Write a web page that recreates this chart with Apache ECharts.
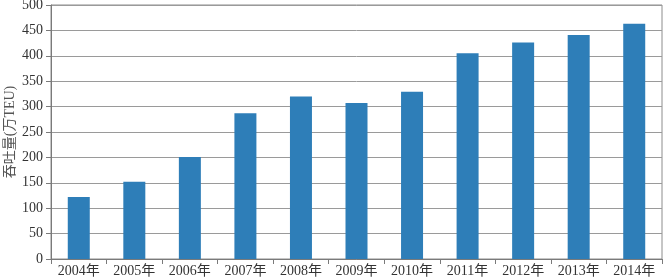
<!DOCTYPE html>
<html><head><meta charset="utf-8">
<script src="https://cdn.jsdelivr.net/npm/echarts@6/dist/echarts.min.js"></script>
<style>html,body{margin:0;padding:0;background:#fff;}#c{width:663px;height:280px;}</style>
</head><body><div id="c"></div>
<script>
const categories = ['2004年','2005年','2006年','2007年','2008年','2009年','2010年','2011年','2012年','2013年','2014年'];
const throughput = [122, 152, 201, 287, 320, 307, 329, 405, 426, 441, 463];
const yTicks = {min: 0, max: 500, interval: 50};
const yName = '吞吐量(万TEU)';

const chart = echarts.init(document.getElementById('c'), null, {renderer: 'canvas'});
const font = '"Liberation Serif", "Noto Sans CJK SC", serif';
chart.setOption({
  animation: false,
  backgroundColor: '#fff',
  grid: {left: 51, right: 1, top: 5, bottom: 21, containLabel: false, outerBoundsMode: 'none', show: true, borderColor: '#8c8c8c', borderWidth: 1},
  xAxis: {
    type: 'category', data: categories,
    axisLine: {lineStyle: {color: '#7a7a7a', width: 1}},
    axisTick: {show: true, length: 5, lineStyle: {color: '#7a7a7a'}},
    axisLabel: {color: '#333', fontFamily: font, fontSize: 14, margin: 5},
    splitLine: {show: false}
  },
  yAxis: {
    type: 'value', min: yTicks.min, max: yTicks.max, interval: yTicks.interval,
    name: yName, nameLocation: 'middle', nameGap: 34, nameRotate: 90, nameMoveOverlap: false,
    nameTextStyle: {color: '#555', fontFamily: font, fontSize: 14},
    axisLine: {show: true, lineStyle: {color: '#7a7a7a', width: 1}},
    axisTick: {show: true, length: 5, lineStyle: {color: '#7a7a7a'}},
    axisLabel: {color: '#333', fontFamily: font, fontSize: 14, margin: 8},
    splitLine: {lineStyle: {color: '#9a9a9a', width: 1}}
  },
  series: [{
    type: 'bar', data: throughput, barWidth: 22,
    itemStyle: {color: '#2e7eb8'}
  }]
});
</script></body></html>
